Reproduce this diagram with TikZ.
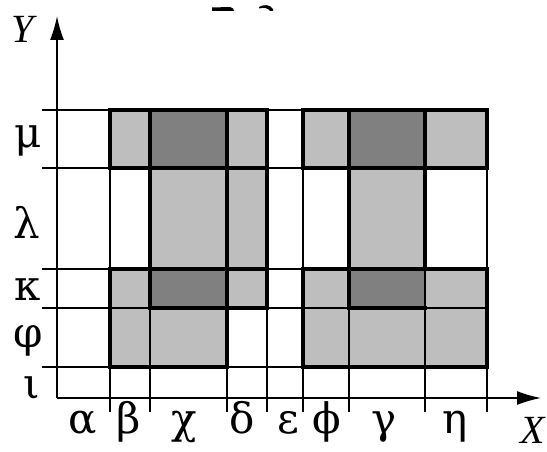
\documentclass[tikz,border=0pt]{standalone}
\usepackage{fontspec}
\setmainfont{Liberation Serif}
\newfontfamily\greekfont{DejaVu Serif}
\usetikzlibrary{arrows.meta}
\definecolor{lightg}{RGB}{190,190,190}
\definecolor{darkg}{RGB}{128,128,128}
\begin{document}
\begin{tikzpicture}[x=1pt,y=-1pt,
  gridline/.style={line width=1.5pt, black},
  boldline/.style={line width=4pt, black, line cap=rect},
  axisline/.style={line width=1.5pt, black, -{Latex[length=24pt,width=14pt]}},
  lbl/.style={font=\greekfont\fontsize{42}{42}\selectfont, anchor=base, inner sep=0pt},
  axlbl/.style={font=\fontsize{40}{40}\selectfont\itshape, anchor=base, inner sep=0pt},
  lc/.style={fill=lightg},
  dc/.style={fill=darkg}]
\useasboundingbox (0,0) rectangle (547,452);
% cells: row mu
\path[lc] (110,110) rectangle (150,168);
\path[dc] (150,110) rectangle (227,168);
\path[lc] (227,110) rectangle (267,168);
\path[lc] (303,110) rectangle (349,168);
\path[dc] (349,110) rectangle (425,168);
\path[lc] (425,110) rectangle (487,168);
% row lambda
\path[lc] (150,168) rectangle (267,269);
\path[lc] (349,168) rectangle (425,269);
% row kappa
\path[lc] (110,269) rectangle (150,308);
\path[dc] (150,269) rectangle (227,308);
\path[lc] (227,269) rectangle (267,308);
\path[lc] (303,269) rectangle (349,308);
\path[dc] (349,269) rectangle (425,308);
\path[lc] (425,269) rectangle (487,308);
% row phi
\path[lc] (110,308) rectangle (227,367);
\path[lc] (303,308) rectangle (487,367);
% thin grid
\foreach \yy in {110,168,269,308,367} \draw[gridline] (42,\yy) -- (487,\yy);
\foreach \xx in {110,150,227,267,303,349,425,487} \draw[gridline] (\xx,110) -- (\xx,412);
% axes
\coordinate (O) at (57,398);
\coordinate (Ytip) at (57,16);
\coordinate (Xtip) at (541,398);
\draw[axisline] (O) -- (Ytip);
\draw[axisline] (O) -- (Xtip);
% thick outlines left
\draw[boldline] (110,110) -- (267,110);
\draw[boldline] (110,168) -- (267,168);
\draw[boldline] (110,269) -- (267,269);
\draw[boldline] (150,308) -- (267,308);
\draw[boldline] (110,367) -- (227,367);
\draw[boldline] (110,110) -- (110,168);
\draw[boldline] (110,269) -- (110,367);
\draw[boldline] (150,110) -- (150,308);
\draw[boldline] (227,110) -- (227,367);
\draw[boldline] (267,110) -- (267,308);
% thick outlines right
\draw[boldline] (303,110) -- (487,110);
\draw[boldline] (303,168) -- (487,168);
\draw[boldline] (303,269) -- (487,269);
\draw[boldline] (349,308) -- (425,308);
\draw[boldline] (303,367) -- (487,367);
\draw[boldline] (303,110) -- (303,168);
\draw[boldline] (303,269) -- (303,367);
\draw[boldline] (349,110) -- (349,308);
\draw[boldline] (425,110) -- (425,269);
\draw[boldline] (487,110) -- (487,168);
\draw[boldline] (487,269) -- (487,367);
% row labels
\node[lbl] (rmu) at (28,148) {μ};
\node[lbl] (rla) at (27,238) {λ};
\node[lbl] (rka) at (28,300) {κ};
\node[lbl] (rph) at (28,347) {φ};
\node[lbl] (rio) at (32,398) {ι};
% column labels
\node[lbl] (ca) at (83,433) {α};
\node[lbl] (cb) at (129,433) {β};
\node[lbl] (cc) at (184,433) {χ};
\node[lbl] (cd) at (242,433) {δ};
\node[lbl] (ce) at (288,433) {ε};
\node[lbl] (cf) at (327,433) {ϕ};
\node[lbl] (cg) at (384,433) {γ};
\node[lbl] (ch) at (455,433) {η};
% axis labels
\node[axlbl] (ylab) at (23,43) {Y};
\node[axlbl] (xlab) at (533,443) {X};
% clipped title fragments
\fill (212,7.5) -- (230,7) .. controls (233,7.5) and (234,9) .. (234,11) -- (212,11) -- cycle;
\fill (259,7) .. controls (263,4.5) and (270,4) .. (273,9) -- (273,11) -- (270,11) .. controls (268,8) and (264,7) .. (259,8.5) -- cycle;
\end{tikzpicture}
\end{document}
